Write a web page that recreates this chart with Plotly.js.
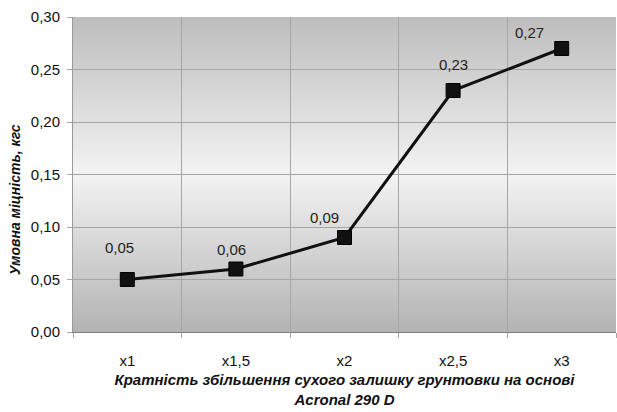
<!DOCTYPE html>
<html>
<head>
<meta charset="utf-8">
<script src="https://cdn.plot.ly/plotly-3.0.1.min.js"></script>
<style>
  html, body { margin: 0; padding: 0; background: #ffffff; }
  #chart { width: 617px; height: 412px; }
</style>
</head>
<body>
<div id="chart"></div>
<script>
// Кратність збільшення сухого залишку та умовна міцність
const categories = ['x1', 'x1,5', 'x2', 'x2,5', 'x3'];
const strength = [0.05, 0.06, 0.09, 0.23, 0.27];
const yTicks = [0, 0.05, 0.10, 0.15, 0.20, 0.25, 0.30];

// small nudges for the value labels (pixels)
const labelDX = [-8, -4, -20, 0, -32];
const labelDY = [32, 20, 20, 26, 16];

const fontFamily = '"Liberation Sans", Arial, sans-serif';

// vertical grey-white-grey gradient for the plot area
const bgSvg =
  '<svg xmlns="http://www.w3.org/2000/svg" width="10" height="100" preserveAspectRatio="none">' +
  '<defs><linearGradient id="g" x1="0" y1="0" x2="0" y2="1">' +
  '<stop offset="0" stop-color="#bdbdbd"/>' +
  '<stop offset="0.5" stop-color="#f3f3f3"/>' +
  '<stop offset="1" stop-color="#b3b3b3"/>' +
  '</linearGradient></defs>' +
  '<rect width="10" height="100" fill="url(#g)"/></svg>';
const bgUri = 'data:image/svg+xml;charset=utf-8,' + encodeURIComponent(bgSvg);

const trace = {
  type: 'scatter',
  mode: 'lines+markers',
  x: categories,
  y: strength,
  line: { color: '#111111', width: 3 },
  marker: { symbol: 'square', size: 14, color: '#111111', line: { color: '#000000', width: 1 } },
  hoverinfo: 'skip',
  cliponaxis: false
};

const valueLabels = strength.map((v, i) => ({
  x: categories[i],
  y: v,
  xref: 'x',
  yref: 'y',
  text: v.toFixed(2).replace('.', ','),
  showarrow: false,
  xshift: labelDX[i],
  yshift: labelDY[i],
  font: { family: fontFamily, size: 15, color: '#222222' }
}));

const yTitle = {
  xref: 'paper', yref: 'paper',
  x: -0.108, y: 0.42,
  xanchor: 'center', yanchor: 'middle',
  textangle: -90,
  showarrow: false,
  text: '<b><i>Умовна міцність, кгс</i></b>',
  font: { family: fontFamily, size: 14, color: '#111111' }
};

const layout = {
  width: 617,
  height: 412,
  margin: { l: 73, r: 1, t: 17, b: 80 },
  paper_bgcolor: '#ffffff',
  plot_bgcolor: 'rgba(0,0,0,0)',
  separators: ',.',
  showlegend: false,
  font: { family: fontFamily, size: 15, color: '#111111' },
  images: [{
    source: bgUri,
    xref: 'paper', yref: 'paper',
    x: 0, y: 1, sizex: 1, sizey: 1,
    xanchor: 'left', yanchor: 'top',
    sizing: 'stretch',
    layer: 'below'
  }],
  xaxis: {
    type: 'category',
    tickson: 'boundaries',
    showgrid: true,
    gridcolor: '#a6a6a6',
    gridwidth: 1,
    showline: true,
    linecolor: '#808080',
    linewidth: 1,
    ticks: 'outside',
    ticklen: 5,
    tickcolor: '#a6a6a6',
    ticklabelstandoff: 15,
    tickfont: { family: fontFamily, size: 15, color: '#111111' },
    range: [-0.5, 4.5],
    title: {
      text: '<b><i>Кратність збільшення сухого залишку грунтовки на основі<br>Acronal 290 D</i></b>',
      font: { family: fontFamily, size: 15, color: '#111111' },
      standoff: 6
    },
    fixedrange: true
  },
  yaxis: {
    range: [0, 0.30],
    tickvals: yTicks,
    tickformat: '.2f',
    showgrid: true,
    gridcolor: '#a6a6a6',
    gridwidth: 1,
    zeroline: false,
    showline: true,
    linecolor: '#9a9a9a',
    linewidth: 1,
    ticks: 'outside',
    ticklen: 5,
    tickcolor: '#a6a6a6',
    ticklabelstandoff: 4,
    tickfont: { family: fontFamily, size: 15, color: '#111111' },
    fixedrange: true
  },
  annotations: valueLabels.concat([yTitle])
};

Plotly.newPlot('chart', [trace], layout, { staticPlot: true, displayModeBar: false });
</script>
</body>
</html>
